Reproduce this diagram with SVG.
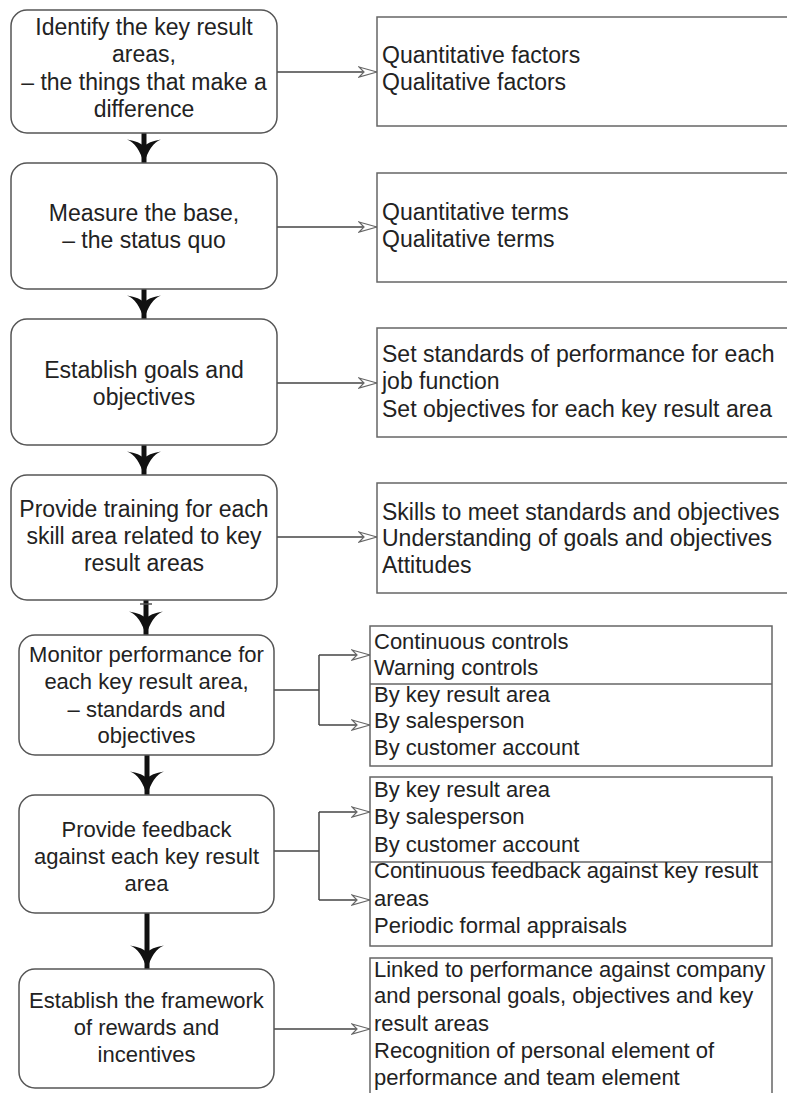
<svg xmlns="http://www.w3.org/2000/svg" width="787" height="1093" viewBox="0 0 787 1093">
<style>
.step{fill:#fff;stroke:#555;stroke-width:1.5}
.info{fill:#fff;stroke:#666;stroke-width:1.5}
.t{font-family:"Liberation Sans",Arial,sans-serif;font-size:22px;fill:#222}
.big{font-size:23px}
.c{text-anchor:middle}
.link{fill:none;stroke:#444;stroke-width:1.5}
.flow{fill:none;stroke:#111;stroke-width:5}
</style>
<defs>
<marker id="open" viewBox="0 0 20 12" refX="19" refY="6" markerWidth="20" markerHeight="12" markerUnits="userSpaceOnUse" orient="auto">
<path d="M1,1 L19,6 L1,11 L6,6 Z" fill="#fff" stroke="#666" stroke-width="1.2"/>
</marker>
<marker id="solid" viewBox="0 0 34 26" refX="17" refY="25.5" markerWidth="34" markerHeight="26" markerUnits="userSpaceOnUse" orient="0">
<path d="M0,2 Q11,6 17,26 Q23,6 34,2 Q21,4 17,9 Q13,4 0,2 Z" fill="#111"/>
</marker>
</defs>
<g id="connectors">
<line class="flow" x1="144" y1="133" x2="144" y2="163" marker-end="url(#solid)"/>
<line class="flow" x1="144" y1="289" x2="144" y2="319" marker-end="url(#solid)"/>
<line class="flow" x1="144" y1="445" x2="144" y2="475" marker-end="url(#solid)"/>
<line class="flow" x1="146" y1="600" x2="146" y2="635" marker-end="url(#solid)"/>
<line x1="140" y1="604" x2="152" y2="604" stroke="#555" stroke-width="1.5"/>
<line class="flow" x1="147" y1="755" x2="147" y2="795" marker-end="url(#solid)"/>
<line class="flow" x1="147" y1="913" x2="147" y2="969" marker-end="url(#solid)"/>
<line class="link" x1="277" y1="72" x2="377" y2="72" marker-end="url(#open)"/>
<line class="link" x1="277" y1="227" x2="377" y2="227" marker-end="url(#open)"/>
<line class="link" x1="277" y1="383" x2="377" y2="383" marker-end="url(#open)"/>
<line class="link" x1="277" y1="537" x2="377" y2="537" marker-end="url(#open)"/>
<polyline class="link" points="274,690 319,690"/>
<polyline class="link" points="319,655 319,725"/>
<line class="link" x1="319" y1="655" x2="370" y2="655" marker-end="url(#open)"/>
<line class="link" x1="319" y1="725" x2="370" y2="725" marker-end="url(#open)"/>
<polyline class="link" points="274,851 319,851"/>
<polyline class="link" points="319,812 319,900"/>
<line class="link" x1="319" y1="812" x2="370" y2="812" marker-end="url(#open)"/>
<line class="link" x1="319" y1="900" x2="370" y2="900" marker-end="url(#open)"/>
<line class="link" x1="274" y1="1029" x2="370" y2="1029" marker-end="url(#open)"/>
</g>
<g id="step1">
<rect class="step" x="11" y="10" width="266" height="123" rx="16"/>
<text class="t big c" x="144" y="35">Identify the key result</text>
<text class="t big c" x="144" y="62">areas,</text>
<text class="t big c" x="144" y="90">– the things that make a</text>
<text class="t big c" x="144" y="117">difference</text>
</g>
<g id="step2">
<rect class="step" x="11" y="163" width="266" height="126" rx="16"/>
<text class="t big c" x="144" y="221">Measure the base,</text>
<text class="t big c" x="144" y="248">– the status quo</text>
</g>
<g id="step3">
<rect class="step" x="11" y="319" width="266" height="126" rx="16"/>
<text class="t big c" x="144" y="378">Establish goals and</text>
<text class="t big c" x="144" y="405">objectives</text>
</g>
<g id="step4">
<rect class="step" x="11" y="475" width="266" height="125" rx="16"/>
<text class="t big c" x="144" y="517">Provide training for each</text>
<text class="t big c" x="144" y="544">skill area related to key</text>
<text class="t big c" x="144" y="571">result areas</text>
</g>
<g id="step5">
<rect class="step" x="19" y="635" width="255" height="120" rx="16"/>
<text class="t c" x="146.5" y="662">Monitor performance for</text>
<text class="t c" x="146.5" y="689">each key result area,</text>
<text class="t c" x="146.5" y="717">– standards and</text>
<text class="t c" x="146.5" y="743">objectives</text>
</g>
<g id="step6">
<rect class="step" x="19" y="795" width="255" height="118" rx="16"/>
<text class="t c" x="146.5" y="837">Provide feedback</text>
<text class="t c" x="146.5" y="864">against each key result</text>
<text class="t c" x="146.5" y="891">area</text>
</g>
<g id="step7">
<rect class="step" x="19" y="969" width="255" height="119" rx="16"/>
<text class="t c" x="146.5" y="1008">Establish the framework</text>
<text class="t c" x="146.5" y="1035">of rewards and</text>
<text class="t c" x="146.5" y="1062">incentives</text>
</g>
<g id="info1">
<rect class="info" x="377" y="17" width="412" height="109"/>
<text class="t big" x="382" y="63">Quantitative factors</text>
<text class="t big" x="382" y="90">Qualitative factors</text>
</g>
<g id="info2">
<rect class="info" x="377" y="173" width="412" height="109"/>
<text class="t big" x="382" y="220">Quantitative terms</text>
<text class="t big" x="382" y="247">Qualitative terms</text>
</g>
<g id="info3">
<rect class="info" x="377" y="328" width="412" height="109"/>
<text class="t big" x="382" y="362">Set standards of performance for each</text>
<text class="t big" x="382" y="389">job function</text>
<text class="t big" x="382" y="417">Set objectives for each key result area</text>
</g>
<g id="info4">
<rect class="info" x="377" y="483" width="412" height="110"/>
<text class="t big" x="382" y="520">Skills to meet standards and objectives</text>
<text class="t big" x="382" y="546">Understanding of goals and objectives</text>
<text class="t big" x="382" y="573">Attitudes</text>
</g>
<g id="info5">
<rect class="info" x="370" y="626" width="402" height="140"/>
<line x1="370" y1="684" x2="772" y2="684" stroke="#666" stroke-width="1.5"/>
<text class="t" x="374" y="649">Continuous controls</text>
<text class="t" x="374" y="675">Warning controls</text>
<text class="t" x="374" y="702">By key result area</text>
<text class="t" x="374" y="728">By salesperson</text>
<text class="t" x="374" y="755">By customer account</text>
</g>
<g id="info6">
<rect class="info" x="370" y="777" width="402" height="169"/>
<line x1="370" y1="862" x2="772" y2="862" stroke="#666" stroke-width="1.5"/>
<text class="t" x="374" y="797">By key result area</text>
<text class="t" x="374" y="824">By salesperson</text>
<text class="t" x="374" y="852">By customer account</text>
<text class="t" x="374" y="878">Continuous feedback against key result</text>
<text class="t" x="374" y="906">areas</text>
<text class="t" x="374" y="933">Periodic formal appraisals</text>
</g>
<g id="info7">
<rect class="info" x="370" y="958" width="402" height="140"/>
<text class="t" x="374" y="977">Linked to performance against company</text>
<text class="t" x="374" y="1003">and personal goals, objectives and key</text>
<text class="t" x="374" y="1031">result areas</text>
<text class="t" x="374" y="1058">Recognition of personal element of</text>
<text class="t" x="374" y="1085">performance and team element</text>
</g>
</svg>
